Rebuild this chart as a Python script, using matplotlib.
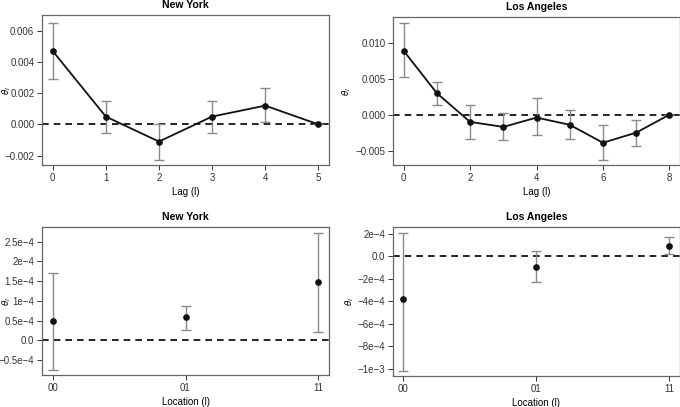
import matplotlib.pyplot as plt
import matplotlib.ticker as mticker

plt.rcParams['font.family'] = ['Liberation Sans', 'DejaVu Sans']
plt.rcParams['font.stretch'] = 'normal'

# lag plots
ny_lag = [0, 1, 2, 3, 4, 5]
ny_theta = [0.0047, 0.0005, -0.0011, 0.0005, 0.0012, 0.0]
ny_lo = [0.0029, -0.00055, -0.00225, -0.00055, 0.00015, 0.0]
ny_hi = [0.0065, 0.0015, 0.00005, 0.0015, 0.0023, 0.0]

la_lag = [0, 1, 2, 3, 4, 5, 6, 7, 8]
la_theta = [0.0089, 0.0030, -0.0010, -0.0017, -0.0004, -0.0014, -0.0039, -0.0025, 0.0]
la_lo = [0.0053, 0.0013, -0.0034, -0.0035, -0.0028, -0.0034, -0.0063, -0.0043, 0.0]
la_hi = [0.0128, 0.0046, 0.0014, 0.0003, 0.0023, 0.0006, -0.0014, -0.0007, 0.0]

# location plots
locations = ['00', '01', '11']
ny_loc = [0.48e-4, 0.58e-4, 1.47e-4]
ny_loc_lo = [-0.76e-4, 0.26e-4, 0.21e-4]
ny_loc_hi = [1.70e-4, 0.86e-4, 2.72e-4]

la_loc = [-3.82e-4, -0.98e-4, 0.96e-4]
la_loc_lo = [-10.18e-4, -2.3e-4, 0.24e-4]
la_loc_hi = [2.09e-4, 0.45e-4, 1.73e-4]

ny_loc_ticks = [-0.5e-4, 0, 0.5e-4, 1e-4, 1.5e-4, 2e-4, 2.5e-4]
ny_loc_labels = ['\u22120.5e\u22124', '0.0', '0.5e\u22124', '1e\u22124', '1.5e\u22124', '2e\u22124', '2.5e\u22124']
la_loc_ticks = [-1e-3, -8e-4, -6e-4, -4e-4, -2e-4, 0, 2e-4]
la_loc_labels = ['\u22121e\u22123', '\u22128e\u22124', '\u22126e\u22124', '\u22124e\u22124', '\u22122e\u22124', '0.0', '2e\u22124']

fig = plt.figure(figsize=(6.8, 4.07), dpi=100)
W, H = 680, 407


def make_ax(l, r, t, b):
    return fig.add_axes([l / W, 1 - b / H, (r - l) / W, (b - t) / H])


def style(ax, title, xlabel, ylab_x):
    ax.set_title(title, fontsize=7.5, fontweight='bold', pad=5)
    ax.set_xlabel(xlabel, fontsize=7, labelpad=3)
    ax.set_ylabel(r'$\theta_l$', fontsize=6.5)
    ax.yaxis.set_label_coords(ylab_x, 0.5)
    for s in ax.spines.values():
        s.set_color('#666666')
        s.set_linewidth(0.9)
    ax.tick_params(labelsize=7, colors='#333333', length=3.5, width=0.7, pad=2)
    ax.axhline(0, color='black', ls=(0, (4, 3)), lw=1.2, zorder=1)


def errs(y, lo, hi):
    return [[v - a for v, a in zip(y, lo)], [b - v for v, b in zip(y, hi)]]


ax1 = make_ax(42, 329, 15, 165)
ax1.errorbar(ny_lag, ny_theta, yerr=errs(ny_theta, ny_lo, ny_hi), fmt='none',
             ecolor='#8a8a8a', elinewidth=1.0, capsize=3.5, capthick=1.0, zorder=2)
ax1.plot(ny_lag, ny_theta, color='#111111', lw=1.3, marker='o', ms=3.8, zorder=3)
ax1.set_xlim(-0.2, 5.2)
ax1.set_ylim(-0.0026, 0.0070)
ax1.set_yticks([-0.002, 0, 0.002, 0.004, 0.006])
ax1.yaxis.set_major_formatter(mticker.FuncFormatter(lambda v, p: f'{v:.3f}'.replace('-', '\u2212')))
style(ax1, 'New York', 'Lag (l)', -0.1)

ax2 = make_ax(393, 680, 17, 165)
ax2.errorbar(la_lag, la_theta, yerr=errs(la_theta, la_lo, la_hi), fmt='none',
             ecolor='#8a8a8a', elinewidth=1.0, capsize=3.5, capthick=1.0, zorder=2)
ax2.plot(la_lag, la_theta, color='#111111', lw=1.3, marker='o', ms=3.8, zorder=3)
ax2.set_xlim(-0.32, 8.32)
ax2.set_ylim(-0.0070, 0.0136)
ax2.set_xticks([0, 2, 4, 6, 8])
ax2.set_yticks([-0.005, 0, 0.005, 0.010])
ax2.yaxis.set_major_formatter(mticker.FuncFormatter(lambda v, p: f'{v:.3f}'.replace('-', '\u2212')))
style(ax2, 'Los Angeles', 'Lag (l)', -0.14)

ax3 = make_ax(42, 329, 227, 375)
xpos = list(range(len(locations)))
ax3.errorbar(xpos, ny_loc, yerr=errs(ny_loc, ny_loc_lo, ny_loc_hi), fmt='o', color='#111111',
             ms=3.8, ecolor='#8a8a8a', elinewidth=1.0, capsize=3.5, capthick=1.0, zorder=3)
ax3.set_xlim(-0.08, 2.08)
ax3.set_ylim(-0.88e-4, 2.87e-4)
ax3.set_xticks(xpos, locations)
ax3.set_yticks(ny_loc_ticks, ny_loc_labels)
style(ax3, 'New York', 'Location (l)', -0.1)

ax4 = make_ax(393, 680, 227, 376)
ax4.errorbar(xpos, la_loc, yerr=errs(la_loc, la_loc_lo, la_loc_hi), fmt='o', color='#111111',
             ms=3.8, ecolor='#8a8a8a', elinewidth=1.0, capsize=3.5, capthick=1.0, zorder=3)
ax4.set_xlim(-0.075, 2.08)
ax4.set_ylim(-10.66e-4, 2.63e-4)
ax4.set_xticks(xpos, locations)
ax4.set_yticks(la_loc_ticks, la_loc_labels)
style(ax4, 'Los Angeles', 'Location (l)', -0.13)

fig.savefig('out.png', dpi=100)
